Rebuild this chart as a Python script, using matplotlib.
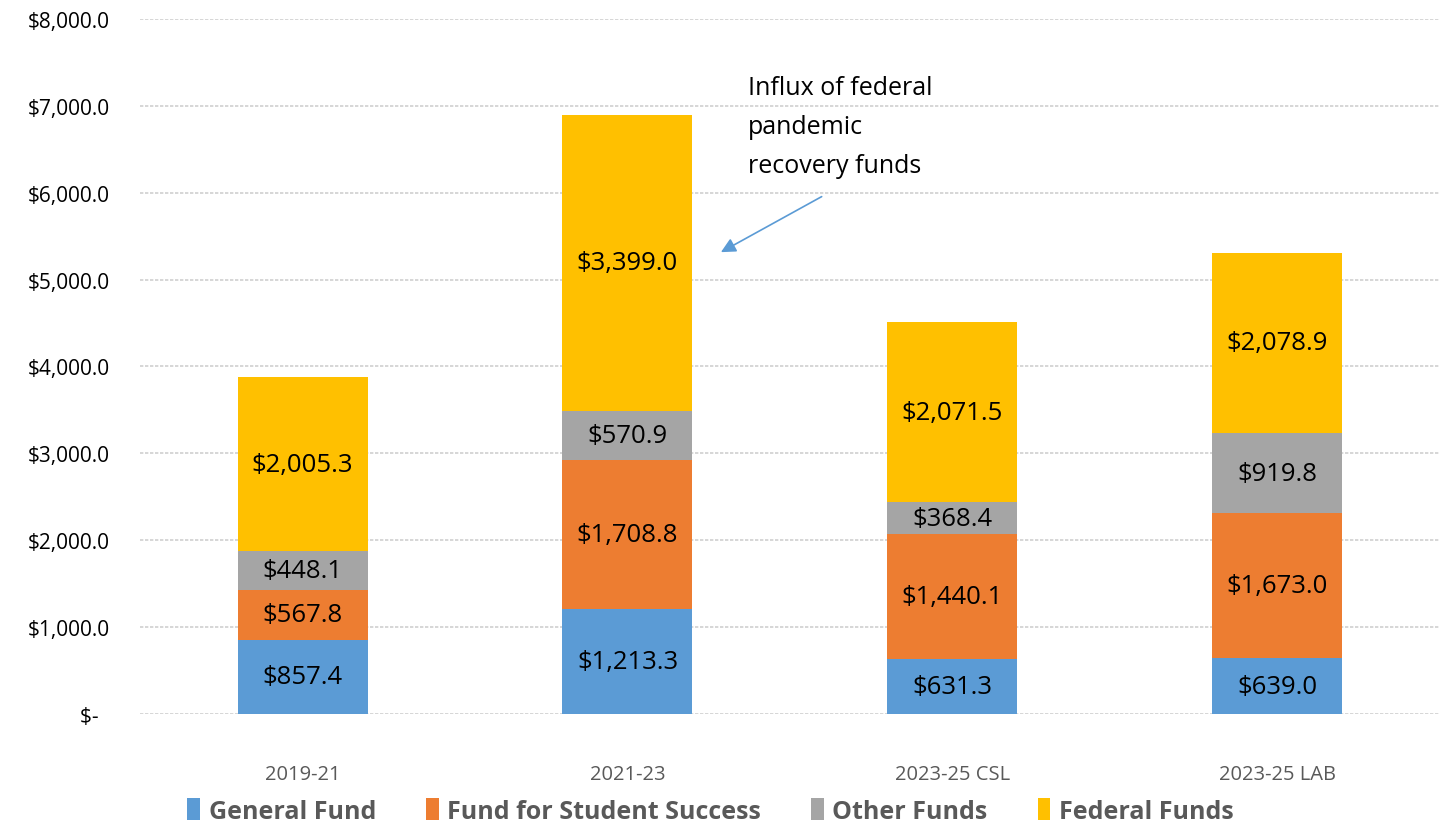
import matplotlib
matplotlib.use("Agg")
import matplotlib.pyplot as plt
import numpy as np

plt.rcParams["font.family"] = ["Open Sans", "DejaVu Sans"]

categorias = ["2019-21", "2021-23", "2023-25 CSL", "2023-25 LAB"]
general_fund = [857.4, 1213.3, 631.3, 639.0]
student_success = [567.8, 1708.8, 1440.1, 1673.0]
other_funds = [448.1, 570.9, 368.4, 919.8]
federal_funds = [2005.3, 3399.0, 2071.5, 2078.9]

series = [
    ("General Fund", general_fund, "#5B9BD5"),
    ("Fund for Student Success", student_success, "#ED7D31"),
    ("Other Funds", other_funds, "#A5A5A5"),
    ("Federal Funds", federal_funds, "#FFC000"),
]

fig = plt.figure(figsize=(14.5, 8.29), dpi=100)
ax = fig.add_axes([0.0966, 0.1375, 0.8964, 0.8385])

x = np.arange(len(categorias))
base = np.zeros(len(categorias))
for nombre, vals, color in series:
    vals = np.array(vals)
    ax.bar(x, vals, 0.4, bottom=base, color=color, label=nombre, zorder=2)
    for xi, b, v in zip(x, base, vals):
        ax.text(xi, b + v / 2, f"${v:,.1f}", ha="center", va="center",
                fontsize=18.5, color="black", zorder=3)
    base += vals

ax.set_xlim(-0.5, len(categorias) - 0.5)
ax.set_ylim(0, 8000)
ax.set_yticks(np.arange(0, 8001, 1000))
ax.set_yticklabels(["$-  "] + [f"${v:,.1f}" for v in np.arange(1000, 8001, 1000)],
                   fontsize=15)
ax.set_xticks(x)
ax.set_xticklabels(categorias, fontsize=14.5, color="#595959")
ax.tick_params(length=0)
ax.tick_params(axis="y", pad=22)
ax.tick_params(axis="x", pad=36)
for lado in ["top", "right", "left", "bottom"]:
    ax.spines[lado].set_visible(False)
ax.grid(axis="y", color="#D0D0D0", linestyle=(0, (2, 1)), linewidth=1.2, zorder=0)
ax.set_axisbelow(True)

ax.text(1.37, 7350, "Influx of federal\npandemic\nrecovery funds", fontsize=18,
        va="top", ha="left", linespacing=1.72)
ax.annotate("", xy=(1.28, 5300), xytext=(1.605, 5970),
            arrowprops=dict(arrowstyle="-|>", color="#5B9BD5", lw=1.2,
                            mutation_scale=22))

leg = fig.legend(loc="lower center", bbox_to_anchor=(0.49, -0.022), ncol=4,
                 frameon=False, handlelength=0.5, handleheight=1.0,
                 handletextpad=0.35, columnspacing=2.0,
                 prop={"size": 18, "weight": "bold"})
for t in leg.get_texts():
    t.set_color("#595959")

fig.savefig("out.png", dpi=100)
